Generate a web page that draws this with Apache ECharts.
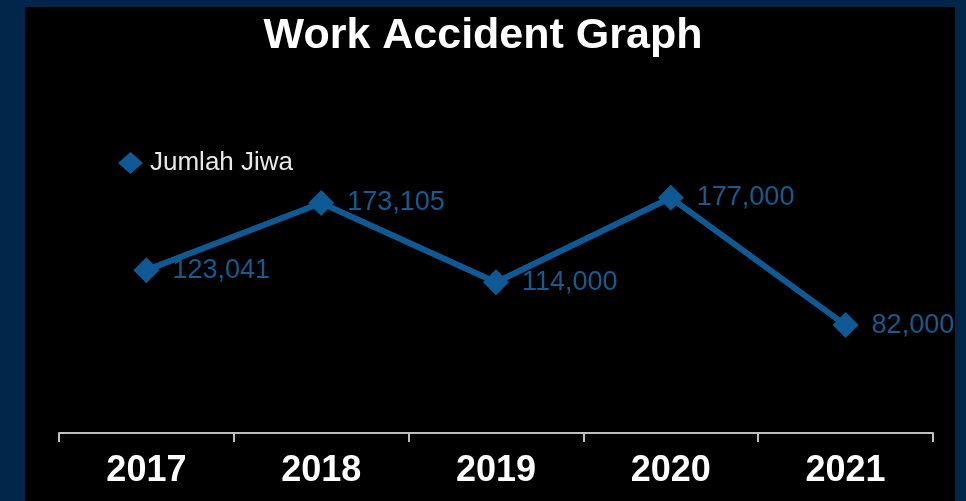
<!DOCTYPE html>
<html><head><meta charset="utf-8">
<script src="https://cdn.jsdelivr.net/npm/echarts@6/dist/echarts.min.js"></script>
<style>html,body{margin:0;padding:0;background:#02254a}#c{width:966px;height:501px}</style>
</head><body><div id="c"></div>
<script>
const categories = ['2017','2018','2019','2020','2021'];
const values = [123041, 173105, 114000, 177000, 82000];
const seriesName = 'Jumlah Jiwa';
const blue = '#0f5a94';
const chart = echarts.init(document.getElementById('c'), null, {renderer:'canvas'});
chart.setOption({
  backgroundColor: '#02254a',
  animation: false,
  graphic: [
    {type:'rect', shape:{x:25,y:7,width:930,height:494}, style:{fill:'#000'}, z:-10},
    {type:'rect', shape:{x:955,y:0,width:11,height:501}, style:{fill:'#02254a'}, z:100}
  ],
  title: {text:'Work Accident Graph', left:'center', top:10,
    textStyle:{color:'#fff', fontFamily:'Liberation Sans, Arial', fontWeight:'bold', fontSize:43}},
  legend: {left:113, top:145, icon:'diamond', itemWidth:25, itemHeight:22, itemGap:5,
    textStyle:{color:'#e8e8e8', fontFamily:'Liberation Sans, Arial', fontSize:26, padding:[0,0,0,2]}, data:[seriesName]},
  grid: {left:59, right:33, top:167, bottom:66},
  xAxis: {type:'category', data:categories, boundaryGap:true, offset:-2,
    axisLine:{lineStyle:{color:'#bfbfbf', width:2}},
    axisTick:{show:true, length:9, lineStyle:{color:'#bfbfbf', width:2}},
    axisLabel:{color:'#fff', fontFamily:'Liberation Sans, Arial', fontWeight:'bold', fontSize:36, margin:20}},
  yAxis: {type:'value', min:0, max:200000, show:false, splitLine:{show:false}},
  series: [{name:seriesName, type:'line', data:values, symbol:'diamond', symbolSize:26,
    lineStyle:{color:blue, width:6}, itemStyle:{color:blue},
    label:{show:true, position:'right', distance:13, color:'#175a8c',
      fontFamily:'Liberation Sans, Arial', fontSize:27,
      formatter:p=>p.value.toLocaleString('en-US')}}]
});
</script></body></html>
